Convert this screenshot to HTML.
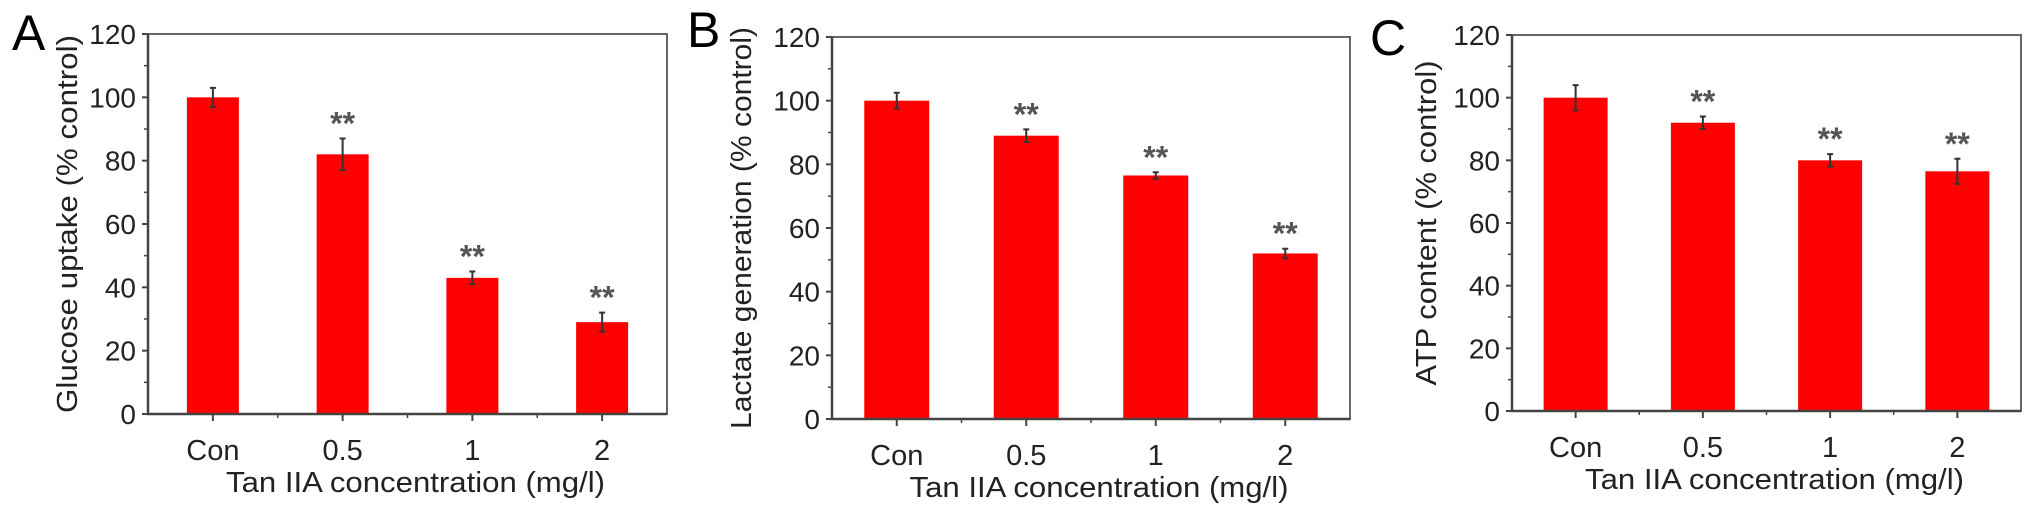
<!DOCTYPE html>
<html><head><meta charset="utf-8"><style>
html,body{margin:0;padding:0;background:#fff;}
svg{display:block;font-family:"Liberation Sans",Arial,sans-serif;}
</style></head><body>
<svg id="fig" width="2032" height="515" viewBox="0 0 2032 515"></svg>
<script>
const categories = ["Con", "0.5", "1", "2"];
const yTicks = [0, 20, 40, 60, 80, 100, 120];
const glucoseValues = [100, 82, 43, 29];
const glucoseErrors = [3, 5, 2, 3];
const lactateValues = [100, 89, 76.5, 52];
const lactateErrors = [2.5, 2, 1, 1.5];
const atpValues = [100, 92, 80, 76.5];
const atpErrors = [4, 2, 2, 4];
const significance = ["", "**", "**", "**"];

const panels = [
  {id:"a", letter:"A", lx:12, ly:50, left:148, right:667, top:34, bottom:414, barW:52, title:"Glucose uptake (% control)", tlen:378, tx:67, vals:glucoseValues, errs:glucoseErrors},
  {id:"b", letter:"B", lx:687, ly:47, left:832, right:1350, top:37, bottom:419, barW:65, title:"Lactate generation (% control)", tlen:402, tx:741, vals:lactateValues, errs:lactateErrors},
  {id:"c", letter:"C", lx:1370, ly:55, left:1512, right:2021, top:35, bottom:411, barW:64, title:"ATP content (% control)", tlen:325, tx:1426, vals:atpValues, errs:atpErrors}
];
const NS = "http://www.w3.org/2000/svg";
const svg = document.getElementById("fig");
function mk(tag, attrs, parent){
  const e = document.createElementNS(NS, tag);
  for (const k in attrs) e.setAttribute(k, attrs[k]);
  (parent||svg).appendChild(e);
  return e;
}
panels.forEach(p => {
  const g = mk("g", {});
  
  
  const yMax = 120;
  const y = v => p.bottom - (v / yMax) * (p.bottom - p.top);
  const step = (p.right - p.left) / categories.length;
  const x = i => p.left + step * (i + 0.5);

  const letter = mk("text", {x:p.lx, y:p.ly, "font-size":50, fill:"#000"}, g);
  letter.textContent = p.letter;
  
  

  p.vals.forEach((v, i) => {
    const b = mk("rect", {x:x(i) - p.barW/2, y:y(v), width:p.barW, height:p.bottom - y(v), fill:"#ff0000"}, g);
    
    
    const e = p.errs[i];
    const eb = mk("path", {d:`M${x(i)} ${y(v+e)}V${y(v-e)}M${x(i)-3} ${y(v+e)}H${x(i)+3}M${x(i)-3} ${y(v-e)}H${x(i)+3}`, stroke:"#333", "stroke-width":2, fill:"none"}, g);
    
    
    if (significance[i]) {
      const s = mk("text", {x:x(i), y:y(v+e) - 4, "text-anchor":"middle", "font-size":32, "font-weight":"bold", fill:"#555"}, g);
      s.textContent = significance[i];
      
      
    }
  });

  const fr = mk("rect", {x:p.left, y:p.top, width:p.right-p.left, height:p.bottom-p.top, fill:"none", stroke:"#666", "stroke-width":2}, g);
  
  
  const ax = mk("path", {d:`M${p.left} ${p.top}V${p.bottom}H${p.right}`, fill:"none", stroke:"#444", "stroke-width":2.5}, g);
  
  

  yTicks.forEach(t => {
    mk("line", {x1:p.left-6, x2:p.left, y1:y(t), y2:y(t), stroke:"#444", "stroke-width":2}, g);
    if (t < 120) mk("line", {x1:p.left-4, x2:p.left, y1:y(t+10), y2:y(t+10), stroke:"#444", "stroke-width":1.5}, g);
    const l = mk("text", {x:p.left-12, y:y(t)+10, "text-anchor":"end", "font-size":28, fill:"#222"}, g);
    l.textContent = t;
    
    
  });
  categories.forEach((c, i) => {
    mk("line", {x1:x(i), x2:x(i), y1:p.bottom, y2:p.bottom+7, stroke:"#444", "stroke-width":2}, g);
    if (i > 0) mk("line", {x1:x(i)-step/2, x2:x(i)-step/2, y1:p.bottom, y2:p.bottom+4, stroke:"#444", "stroke-width":1.5}, g);
    const l = mk("text", {x:x(i), y:p.bottom+46, "text-anchor":"middle", "font-size":29, fill:"#222"}, g);
    l.textContent = c;
    
    
  });
  const xt = mk("text", {x:(p.left+p.right)/2 + 8, y:p.bottom+78, "text-anchor":"middle", "font-size":29, fill:"#222", textLength:379, lengthAdjust:"spacingAndGlyphs"}, g);
  xt.textContent = "Tan IIA concentration (mg/l)";
  
  
  const yt = mk("text", {x:0, y:0, "text-anchor":"middle", "font-size":29, fill:"#222", textLength:p.tlen, lengthAdjust:"spacingAndGlyphs", transform:`translate(${p.tx + 10},${(p.top+p.bottom)/2}) rotate(-90)`}, g);
  yt.textContent = p.title;
  
  
});
</script>
</body></html>
